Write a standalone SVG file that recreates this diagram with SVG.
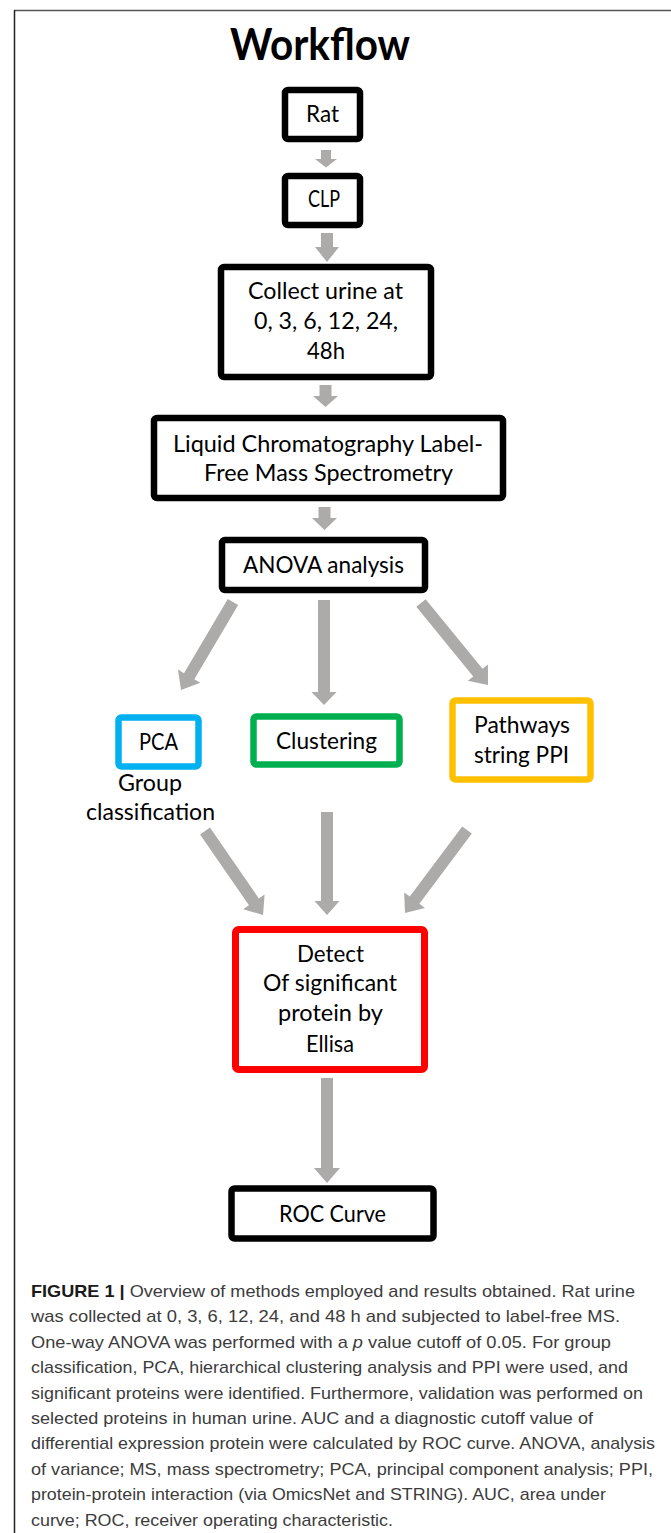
<svg xmlns="http://www.w3.org/2000/svg" width="671" height="1533" viewBox="0 0 671 1533">
<style>
  .box { fill: #ffffff; stroke-linejoin: round; }
  .blk { stroke: #000000; stroke-width: 6.5; }
  .lbl { font-family: Lato, "Open Sans", "Noto Sans", sans-serif; font-size: 24px; fill: #000000; text-anchor: middle; }
  .title { font-family: Lato, "Open Sans", "Noto Sans", sans-serif; font-size: 44px; font-weight: bold; fill: #000000; text-anchor: middle; }
  .arr { fill: #ADAAAA; stroke: none; }
  .cap { font-family: "Liberation Sans", Arial, sans-serif; font-size: 17px; fill: #3c3c3c; }
  .capb { font-weight: bold; fill: #1a1a1a; }
  .frame { stroke-width: 1.5; fill: none; }
</style>
<rect x="0" y="0" width="671" height="1533" fill="#ffffff"/>
<g id="frame">
  <line class="frame" x1="14" y1="10.5" x2="671" y2="10.5" stroke="#555555"/>
  <line class="frame" x1="14.5" y1="10" x2="14.5" y2="1533" stroke="#222222"/>
</g>
<g id="title">
  <text class="title" x="320" y="60" textLength="180" lengthAdjust="spacingAndGlyphs">Workflow</text>
</g>
<g id="connectors">
  <polygon class="arr" points="321,150 331,150 331,159 337,159 326,167.5 315,159 321,159"/>
  <polygon class="arr" points="321,233 333,233 333,247 339,247 327,262 315,247 321,247"/>
  <polygon class="arr" points="319.5,385 331.5,385 331.5,396 338,396 325.5,407 313,396 319.5,396"/>
  <polygon class="arr" points="318.5,507 330.5,507 330.5,518 337,518 324.5,530 312,518 318.5,518"/>
  <polygon class="arr" points="318,600 330,600 330,692 336.5,692 324,705 311.5,692 318,692"/>
  <polygon class="arr" points="227.8,599 183.97,673.17 177.95,669.61 181,690 200.33,682.83 194.31,679.27 238.17,605.05" stroke="#9DB3CF" stroke-width="1"/>
  <polygon class="arr" points="416.35,606.8 473.23,676.41 467.81,680.84 488,685 487.95,664.38 482.53,668.81 425.65,599.2"/>
  <polygon class="arr" points="200.06,834.41 248.97,905.24 243.21,909.22 263,915 264.61,894.44 258.85,898.42 209.94,827.59"/>
  <polygon class="arr" points="321,812 333,812 333,901 339.5,901 327,915 314.5,901 321,901"/>
  <polygon class="arr" points="462.19,826.41 409.77,896.59 404.16,892.4 405,913 425,907.96 419.39,903.77 471.81,833.59"/>
  <polygon class="arr" points="321,1078 333,1078 333,1168 340,1168 327,1183 314,1168 321,1168"/>
</g>
<g id="node-rat">
  <rect class="box blk" x="285" y="90" width="75" height="49" rx="3"/>
  <text class="lbl" x="322.5" y="122" textLength="33" lengthAdjust="spacingAndGlyphs">Rat</text>
</g>
<g id="node-clp">
  <rect class="box blk" x="285" y="176" width="75" height="49" rx="3"/>
  <text class="lbl" x="324" y="207" textLength="32" lengthAdjust="spacingAndGlyphs">CLP</text>
</g>
<g id="node-collect">
  <rect class="box blk" x="221" y="267" width="210" height="110" rx="3"/>
  <text class="lbl" x="325.5" y="299" textLength="155" lengthAdjust="spacingAndGlyphs">Collect urine at</text>
  <text class="lbl" x="326" y="329" textLength="144" lengthAdjust="spacingAndGlyphs">0, 3, 6, 12, 24,</text>
  <text class="lbl" x="326" y="359" textLength="38" lengthAdjust="spacingAndGlyphs">48h</text>
</g>
<g id="node-lcms">
  <rect class="box blk" x="154" y="418" width="349" height="80" rx="3"/>
  <text class="lbl" x="328" y="452" textLength="310" lengthAdjust="spacingAndGlyphs">Liquid Chromatography Label-</text>
  <text class="lbl" x="328.5" y="481" textLength="249" lengthAdjust="spacingAndGlyphs">Free Mass Spectrometry</text>
</g>
<g id="node-anova">
  <rect class="box blk" x="222" y="540" width="203" height="50" rx="3"/>
  <text class="lbl" x="323.5" y="573" textLength="161" lengthAdjust="spacingAndGlyphs">ANOVA analysis</text>
</g>
<g id="node-pca">
  <rect class="box" x="118.5" y="717.5" width="80" height="49" rx="3" stroke="#00B0F0" stroke-width="6.5"/>
  <text class="lbl" x="158.5" y="750" textLength="39" lengthAdjust="spacingAndGlyphs">PCA</text>
  <text class="lbl" x="150" y="791" textLength="64" lengthAdjust="spacingAndGlyphs">Group</text>
  <text class="lbl" x="150.5" y="820" textLength="129" lengthAdjust="spacingAndGlyphs">classification</text>
</g>
<g id="node-clustering">
  <rect class="box" x="253.5" y="716.5" width="146" height="48" rx="3" stroke="#00B050" stroke-width="6.5"/>
  <text class="lbl" x="326.5" y="749" textLength="101" lengthAdjust="spacingAndGlyphs">Clustering</text>
</g>
<g id="node-pathways">
  <rect class="box" x="452.5" y="700.5" width="138" height="79" rx="3" stroke="#FFC000" stroke-width="6.5"/>
  <text class="lbl" x="522" y="733" textLength="96" lengthAdjust="spacingAndGlyphs">Pathways</text>
  <text class="lbl" x="521.5" y="763" textLength="95" lengthAdjust="spacingAndGlyphs">string PPI</text>
</g>
<g id="node-detect">
  <rect class="box" x="235.5" y="929.5" width="189" height="140" rx="3" stroke="#FF0000" stroke-width="7"/>
  <text class="lbl" x="330.5" y="962" textLength="67" lengthAdjust="spacingAndGlyphs">Detect</text>
  <text class="lbl" x="330" y="991" textLength="134" lengthAdjust="spacingAndGlyphs">Of significant</text>
  <text class="lbl" x="330.5" y="1021" textLength="105" lengthAdjust="spacingAndGlyphs">protein by</text>
  <text class="lbl" x="330" y="1052" textLength="48" lengthAdjust="spacingAndGlyphs">Ellisa</text>
</g>
<g id="node-roc">
  <rect class="box blk" x="231.5" y="1188.5" width="202" height="50" rx="3"/>
  <text class="lbl" x="332.5" y="1222" textLength="107" lengthAdjust="spacingAndGlyphs">ROC Curve</text>
</g>
<g id="caption">
  <text class="cap" x="31" y="1297" textLength="604" lengthAdjust="spacingAndGlyphs"><tspan class="capb">FIGURE 1 |</tspan> Overview of methods employed and results obtained. Rat urine</text>
  <text class="cap" x="31" y="1322.4" textLength="589" lengthAdjust="spacingAndGlyphs">was collected at 0, 3, 6, 12, 24, and 48 h and subjected to label-free MS.</text>
  <text class="cap" x="31" y="1347.8" textLength="580" lengthAdjust="spacingAndGlyphs">One-way ANOVA was performed with a <tspan font-style="italic">p</tspan> value cutoff of 0.05. For group</text>
  <text class="cap" x="31" y="1373.2" textLength="597" lengthAdjust="spacingAndGlyphs">classification, PCA, hierarchical clustering analysis and PPI were used, and</text>
  <text class="cap" x="31" y="1398.6" textLength="612" lengthAdjust="spacingAndGlyphs">significant proteins were identified. Furthermore, validation was performed on</text>
  <text class="cap" x="31" y="1424" textLength="562" lengthAdjust="spacingAndGlyphs">selected proteins in human urine. AUC and a diagnostic cutoff value of</text>
  <text class="cap" x="31" y="1449.4" textLength="624" lengthAdjust="spacingAndGlyphs">differential expression protein were calculated by ROC curve. ANOVA, analysis</text>
  <text class="cap" x="31" y="1474.8" textLength="622" lengthAdjust="spacingAndGlyphs">of variance; MS, mass spectrometry; PCA, principal component analysis; PPI,</text>
  <text class="cap" x="31" y="1500.2" textLength="575" lengthAdjust="spacingAndGlyphs">protein-protein interaction (via OmicsNet and STRING). AUC, area under</text>
  <text class="cap" x="31" y="1525.6" textLength="362" lengthAdjust="spacingAndGlyphs">curve; ROC, receiver operating characteristic.</text>
</g>
</svg>
